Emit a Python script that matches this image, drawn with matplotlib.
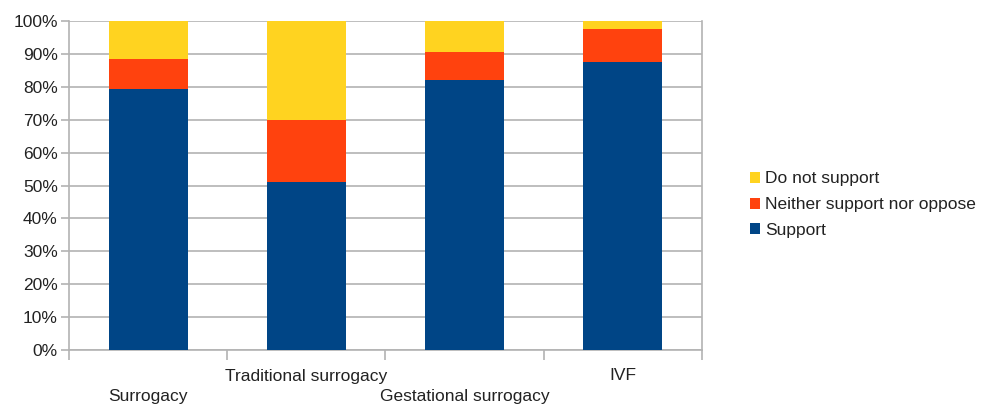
import matplotlib
matplotlib.use("Agg")
import matplotlib.pyplot as plt
import numpy as np
from matplotlib.transforms import blended_transform_factory

plt.rcParams['font.family'] = ['Liberation Sans', 'DejaVu Sans']

categories = ["Surrogacy", "Traditional surrogacy", "Gestational surrogacy", "IVF"]
support = [79.5, 51.0, 82.0, 87.5]
neither = [9.0, 19.0, 8.5, 10.0]
do_not = [11.5, 30.0, 9.5, 2.5]

colors = {"Support": "#004586", "Neither support nor oppose": "#ff420e",
          "Do not support": "#ffd320"}
grid_gray = "#b3b3b3"

fig = plt.figure(figsize=(9.84, 4.07), dpi=100)
ax = fig.add_axes([0.0701, 0.140, 0.6433, 0.808])

x = np.arange(len(categories))
w = 0.5
b1 = ax.bar(x, support, w, color=colors["Support"], label="Support", zorder=3)
b2 = ax.bar(x, neither, w, bottom=support, color=colors["Neither support nor oppose"],
            label="Neither support nor oppose", zorder=3)
bottom3 = np.array(support) + np.array(neither)
b3 = ax.bar(x, do_not, w, bottom=bottom3, color=colors["Do not support"],
            label="Do not support", zorder=3)

ax.set_xlim(-0.5, len(categories) - 0.5)
ax.set_ylim(0, 100)
ax.set_yticks(np.arange(0, 101, 10))
ax.set_yticklabels([f"{v}%" for v in range(0, 101, 10)], fontsize=12.5, color="#222222")
ax.yaxis.grid(True, color=grid_gray, linewidth=1.2, zorder=0)
ax.tick_params(axis='y', length=6, width=1.2, color=grid_gray, pad=2)

# category boundaries carry the tick marks; labels are staggered in two rows
ax.set_xticks(np.arange(-0.5, len(categories), 1.0))
ax.set_xticklabels([])
ax.tick_params(axis='x', length=7, width=1.2, color=grid_gray)

trans = blended_transform_factory(ax.transData, fig.transFigure)
for i, name in enumerate(categories):
    ypos = (407 - 396) / 407 if i % 2 == 0 else (407 - 376) / 407
    ax.text(i, ypos, name, transform=trans, ha="center", va="center",
            fontsize=12.5, color="#222222")

for side in ["left", "right", "bottom", "top"]:
    ax.spines[side].set_color(grid_gray)
    ax.spines[side].set_linewidth(1.2)
ax.spines["top"].set_visible(False)

leg = fig.legend(handles=[b3, b2, b1], labels=["Do not support", "Neither support nor oppose", "Support"],
                 loc="center left", bbox_to_anchor=(0.755, 0.497), frameon=False,
                 fontsize=12.5, handlelength=0.6, handleheight=0.6, handletextpad=0.3,
                 labelspacing=0.62, borderaxespad=0)
for t in leg.get_texts():
    t.set_color("#222222")

fig.savefig("out.png", dpi=100)
